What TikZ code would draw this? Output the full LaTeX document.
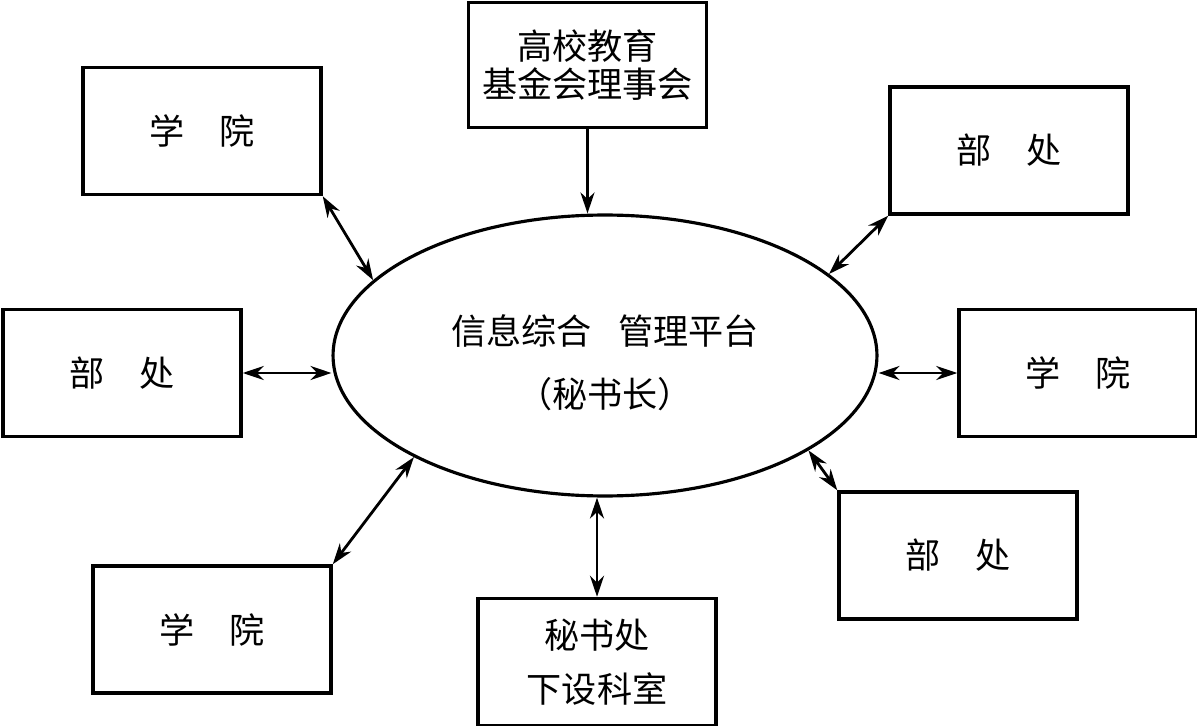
\documentclass[tikz,border=0pt]{standalone}
\usepackage{fontspec}
\newfontfamily\cjkfont{Noto Sans CJK SC}
\usetikzlibrary{shapes.geometric,arrows.meta}
\tikzset{
  unitbox/.style={rectangle,draw=black,line width=2pt,minimum width=4.76cm,minimum height=2.54cm,
    align=center,font=\cjkfont\fontsize{20pt}{22pt}\selectfont},
  platnode/.style={ellipse,draw=black,line width=1.8pt,minimum width=10.88cm,minimum height=5.62cm,
    inner sep=0pt,align=center,font=\cjkfont\fontsize{20pt}{36pt}\selectfont},
  arr/.style={->,>={Stealth[length=12pt,width=8pt]},line width=1.6pt},
  dblarr/.style={<->,>={Stealth[length=12pt,width=8pt]},line width=1.6pt}
}

\begin{document}
\begin{tikzpicture}[x=0.02cm,y=-0.02cm]
  \useasboundingbox (0,0) rectangle (1197,726);

  %% CENTRE
  \node[platnode,text height=2.16cm] (plat) at (605,355.5) {信息综合\hspace{0.75em}管理平台\\（秘书长）};

  %% TOP AND BOTTOM
  \node[unitbox,minimum height=2.5cm] (fund) at (587.5,65) {高校教育\\基金会理事会};
  \node[unitbox,font=\cjkfont\fontsize{20pt}{31pt}\selectfont] (mish) at (597,662) {秘书处\\下设科室};

  %% COLLEGES
  \node[unitbox] (xy1) at (202,131) {学　院};
  \node[unitbox] (xy2) at (1078,373) {学　院};
  \node[unitbox] (xy3) at (212,629.5) {学　院};

  %% DEPARTMENTS
  \node[unitbox] (bc1) at (1009,150.5) {部　处};
  \node[unitbox] (bc2) at (122,373) {部　处};
  \node[unitbox] (bc3) at (958,555.5) {部　处};

  %% CONNECTIONS
  \draw[arr](fund.south) -- (fund.south |- plat.north);
  \draw[dblarr](xy1.south east) -- (plat.162);
  \draw[dblarr](bc1.south west) -- (plat.20);
  \draw[dblarr](bc2.east) -- (bc2.east -| plat.west);
  \draw[dblarr](plat.east |- xy2.west) -- (xy2.west);
  \draw[dblarr](plat.-25) -- (bc3.north west);
  \draw[dblarr](plat.208.7) -- (xy3.north east);
  \draw[dblarr](mish.north |- plat.south) -- (mish.north);
\end{tikzpicture}
\end{document}
